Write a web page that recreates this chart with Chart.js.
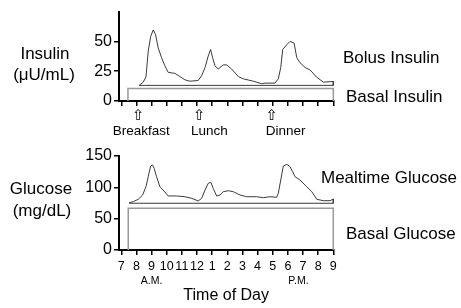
<!DOCTYPE html>
<html>
<head>
<meta charset="utf-8">
<script src="https://cdn.jsdelivr.net/npm/chart.js@4.4.0/dist/chart.umd.min.js"></script>
<style>
body { margin: 0; background: #fff; width: 461px; height: 308px; overflow: hidden; position: relative; font-family: "Liberation Sans", Arial, sans-serif; color: #000; }
canvas { position: absolute; left: 0; }
#insulinChart { top: 0; }
#glucoseChart { top: 140px; }
.lbl { position: absolute; white-space: nowrap; font-size: 17px; line-height: 19px; }
.mid { transform: translate(-50%, -50%); }
.left { transform: translate(0, -50%); }
</style>
</head>
<body>
<canvas id="insulinChart" width="461" height="140"></canvas>
<canvas id="glucoseChart" width="461" height="168"></canvas>

<div class="lbl mid" style="left:45px; top:53px;">Insulin</div>
<div class="lbl mid" style="left:44px; top:74px;">(μU/mL)</div>
<div class="lbl mid" style="left:41px; top:188px;">Glucose</div>
<div class="lbl mid" style="left:42px; top:210px;">(mg/dL)</div>
<div class="lbl left" style="left:343px; top:57px;">Bolus Insulin</div>
<div class="lbl left" style="left:346px; top:96px;">Basal Insulin</div>
<div class="lbl left" style="left:321px; top:177px;">Mealtime Glucose</div>
<div class="lbl left" style="left:346px; top:233px;">Basal Glucose</div>

<script>
// x axis: hour of day (7 A.M. .. 9 P.M.)
const hourTicks = [7, 8, 9, 10, 11, 12, 13, 14, 15, 16, 17, 18, 19, 20, 21];
const insulinTicks = [0, 25, 50];
const glucoseTicks = [0, 50, 100, 150];

// bolus insulin curve (µU/mL)
const bolusHours = [8.18, 8.45, 8.63, 8.78, 8.94, 9.11, 9.27, 9.44, 9.66, 9.88, 10.1, 10.54, 10.87, 11.2, 11.53,
	12.08, 12.31, 12.53, 12.74, 12.9, 13.03, 13.19, 13.4, 13.73, 13.96, 14.29, 14.73, 15.06, 15.72, 16.27, 16.49,
	17.15, 17.37, 17.53, 17.66, 17.93, 18.14, 18.41, 18.59, 18.8, 19.14, 19.47, 19.91, 20.34, 21];
const bolusValues = [13.1, 15.8, 20.2, 41.8, 54.1, 59.6, 55.5, 44.5, 36.3, 29.5, 24, 23.2, 20.5, 17.8, 16.6,
	17.2, 21.3, 28.1, 37.7, 43.2, 36.3, 29.5, 26.8, 30.3, 30.3, 26.8, 20.5, 18.6, 16.6, 14.5, 15,
	15, 18.6, 28.1, 43.2, 47.3, 50, 48.6, 36.3, 32.2, 28.1, 26, 19.9, 15.8, 16.4];
const bolusBase = 13.1;

// basal insulin block
const basalInsulinHours = [7.44, 21];
const basalInsulinLevel = 10.4;

// mealtime glucose curve (mg/dL)
const glucoseHours = [7.52, 7.79, 8.12, 8.41, 8.63, 8.78, 8.94, 9.07, 9.17, 9.33, 9.55, 9.82, 10.1, 10.65, 11.2,
	11.65, 12.08, 12.31, 12.53, 12.74, 12.92, 13.07, 13.3, 13.52, 13.73, 14.07, 14.4, 14.84, 15.28, 15.94, 16.38,
	16.82, 17.26, 17.37, 17.53, 17.7, 17.93, 18.14, 18.32, 18.47, 18.8, 19.25, 19.58, 19.91, 20.34, 20.79, 21];
const glucoseValues = [75.5, 77.1, 80.9, 87.8, 101, 117, 134, 135.6, 130.4, 117, 101, 94.1, 86.2, 86.2, 85,
	82.5, 78.2, 82.5, 95.7, 106.4, 108, 98.4, 86.2, 87.8, 93, 94.6, 93, 87.8, 85, 85, 83.5,
	85, 84.1, 90.5, 111.7, 134, 136.7, 132.9, 124.9, 117, 111.7, 101, 93, 80.9, 78.7, 78.7, 81.4];
const glucoseBase = 74.6;

// basal glucose block
const basalGlucoseHours = [7.46, 21];
const basalGlucoseLevel = 66.5;

// meals and day halves
const mealTimes = [8.12, 12.15, 16.93];
const mealNames = ['Breakfast', 'Lunch', 'Dinner'];
const periodHours = [9, 18.7];
const periodNames = ['A.M.', 'P.M.'];

const FONT = '"Liberation Sans", Arial, sans-serif';

// curve plus its flat base drawn back under it
function curvePoints(xs, ys, base) {
	var pts = xs.map((x, i) => ({x: x, y: ys[i]}));
	pts.push({x: xs[xs.length - 1], y: base});
	pts.push({x: xs[0], y: base});
	return pts;
}

function blockPoints(range, level) {
	return [
		{x: range[0], y: 0}, {x: range[0], y: level},
		{x: range[1], y: level}, {x: range[1], y: 0}
	];
}

function makeChart(id, cfg) {
	var ctx = document.getElementById(id).getContext('2d');
	return new Chart(ctx, {
		type: 'scatter',
		data: {
			datasets: [{
				data: cfg.curve,
				showLine: true,
				borderColor: '#3a3a3a',
				borderWidth: 1,
				pointRadius: 0,
				tension: 0,
				clip: false
			}, {
				data: cfg.block,
				showLine: true,
				borderColor: '#9a9a9a',
				borderWidth: 1.5,
				pointRadius: 0,
				tension: 0,
				clip: false
			}]
		},
		options: {
			responsive: false,
			animation: false,
			layout: {padding: {top: cfg.top, right: 127.7, left: 0, bottom: 0}},
			plugins: {legend: {display: false}, tooltip: {enabled: false}},
			scales: {
				x: {
					type: 'linear',
					min: 6.85,
					max: 21,
					afterBuildTicks: function(s) { s.ticks = hourTicks.map(v => ({value: v})); },
					afterFit: function(s) { s.height = cfg.xHeight; },
					grid: {drawOnChartArea: false, drawTicks: true, tickLength: 5, color: '#000', lineWidth: 1.5},
					border: {color: '#000', width: 2},
					ticks: {
						display: cfg.showHours,
						color: '#000',
						padding: 4,
						maxRotation: 0,
						autoSkip: false,
						font: {family: FONT, size: 12.5},
						callback: function(v) { return v > 12 ? v - 12 : v; }
					},
					title: cfg.xTitle
				},
				y: {
					min: 0,
					max: cfg.yMax,
					afterBuildTicks: function(s) { s.ticks = cfg.yTicks.map(v => ({value: v})); },
					afterFit: function(s) { s.width = 119; },
					grid: {drawOnChartArea: false, drawTicks: true, tickLength: 5, color: '#000', lineWidth: 1.5},
					border: {color: '#000', width: 2},
					ticks: {color: '#000', padding: 2, font: {family: FONT, size: 16}}
				}
			}
		},
		plugins: cfg.plugins
	});
}

// arrows and meal names under the insulin axis
const mealMarks = {
	id: 'mealMarks',
	afterDraw(chart) {
		var ctx = chart.ctx, xs = chart.scales.x;
		var shift = [3, 10, 14];
		ctx.save();
		ctx.fillStyle = '#000';
		ctx.textAlign = 'center';
		ctx.textBaseline = 'middle';
		for (var i = 0; i < mealTimes.length; i++) {
			var px = xs.getPixelForValue(mealTimes[i]);
			ctx.font = '15px "DejaVu Sans"';
			ctx.fillText('⇧', px, 116);
			ctx.font = '13.5px ' + FONT;
			ctx.fillText(mealNames[i], px + shift[i], 131);
		}
		ctx.restore();
	}
};

// A.M. / P.M. under the hour labels
const periodMarks = {
	id: 'periodMarks',
	afterDraw(chart) {
		var ctx = chart.ctx, xs = chart.scales.x;
		ctx.save();
		ctx.fillStyle = '#000';
		ctx.textAlign = 'center';
		ctx.textBaseline = 'middle';
		ctx.font = '10.5px ' + FONT;
		for (var i = 0; i < periodHours.length; i++) {
			ctx.fillText(periodNames[i], xs.getPixelForValue(periodHours[i]), 141);
		}
		ctx.restore();
	}
};

makeChart('insulinChart', {
	curve: curvePoints(bolusHours, bolusValues, bolusBase),
	block: blockPoints(basalInsulinHours, basalInsulinLevel),
	top: 10,
	xHeight: 39,
	yMax: 75,
	yTicks: insulinTicks,
	showHours: false,
	xTitle: {display: false},
	plugins: [mealMarks]
});

makeChart('glucoseChart', {
	curve: curvePoints(glucoseHours, glucoseValues, glucoseBase),
	block: blockPoints(basalGlucoseHours, basalGlucoseLevel),
	top: 16,
	xHeight: 58,
	yMax: 150,
	yTicks: glucoseTicks,
	showHours: true,
	xTitle: {display: true, text: 'Time of Day', color: '#000', font: {family: FONT, size: 16}, padding: {top: 0, bottom: 3}},
	plugins: [periodMarks]
});
</script>
</body>
</html>
